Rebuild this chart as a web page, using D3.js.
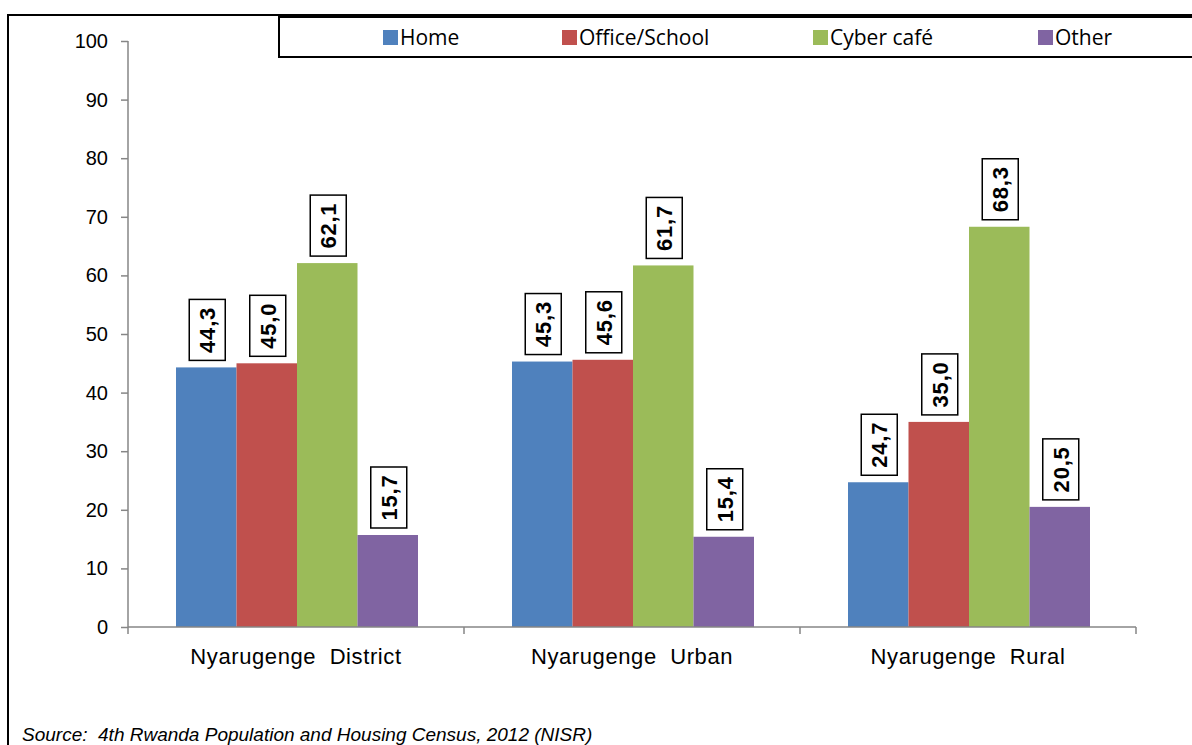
<!DOCTYPE html>
<html><head><meta charset="utf-8">
<script src="https://cdn.jsdelivr.net/npm/d3@7"></script>
<style>body{margin:0;background:#fff;}svg{display:block;}</style>
</head><body>
<svg id="c" width="1192" height="745"></svg>
<script>
const categories = ["Nyarugenge  District", "Nyarugenge  Urban", "Nyarugenge  Rural"];
const seriesNames = ["Home", "Office/School", "Cyber café", "Other"];
const home = [44.3, 45.3, 24.7];
const office = [45.0, 45.6, 35.0];
const cyber = [62.1, 61.7, 68.3];
const other = [15.7, 15.4, 20.5];
const yTicks = [0, 10, 20, 30, 40, 50, 60, 70, 80, 90, 100];
const colors = ["#4F81BD", "#C0504D", "#9BBB59", "#8064A2"];
const seriesValues = [home, office, cyber, other];

const svg = d3.select("#c");
const pL = 128, pR = 1136, pT = 41, pB = 627;

// outer frame
svg.append("line").attr("x1", 8).attr("x2", 8).attr("y1", 14).attr("y2", 745).attr("stroke", "#000").attr("stroke-width", 2);
svg.append("line").attr("x1", 7).attr("x2", 1192).attr("y1", 15).attr("y2", 15).attr("stroke", "#000").attr("stroke-width", 2);

const x0 = d3.scaleBand().domain(categories).range([pL, pR]).paddingInner(0).paddingOuter(0);
const x1 = d3.scaleBand().domain(seriesNames).range([48, x0.bandwidth() - 46]);
const y = d3.scaleLinear().domain([0, 100]).range([pB, pT]);

// y axis
const yAxis = svg.append("g").attr("transform", `translate(${pL},0)`)
  .call(d3.axisLeft(y).tickValues(yTicks).tickSize(7).tickPadding(13));
yAxis.select(".domain").attr("stroke", "#868686").attr("stroke-width", 1.5).attr("d", `M0,${pT}V${pB}`);
yAxis.selectAll(".tick line").attr("stroke", "#868686").attr("stroke-width", 1.5);
yAxis.selectAll(".tick text").attr("font-family", "Liberation Sans, Arial, sans-serif").attr("font-size", 20).attr("fill", "#000");

// bars
const groups = svg.append("g").selectAll("g").data(categories).join("g")
  .attr("transform", d => `translate(${x0(d)},0)`);
seriesNames.forEach((s, si) => {
  groups.append("rect")
    .attr("x", x1(s)).attr("width", x1.bandwidth())
    .attr("y", (d, i) => y(seriesValues[si][i]))
    .attr("height", (d, i) => y(0) - y(seriesValues[si][i]))
    .attr("fill", colors[si]);
  const lab = groups.append("g")
    .attr("transform", (d, i) => `translate(${x1(s) + x1.bandwidth() / 2 + 1},${y(seriesValues[si][i]) - 7})`);
  lab.append("rect").attr("x", -18).attr("y", -61).attr("width", 36).attr("height", 61)
    .attr("fill", "#fff").attr("stroke", "#000").attr("stroke-width", 1.5);
  lab.append("text").attr("transform", "translate(0,-30.5) rotate(-90)")
    .attr("text-anchor", "middle").attr("dy", "0.36em")
    .attr("font-family", "Liberation Sans, Arial, sans-serif").attr("font-weight", "bold").attr("font-size", 22)
    .attr("letter-spacing", 0.8)
    .text((d, i) => seriesValues[si][i].toFixed(1).replace(".", ","));
});

// x axis
const xAxis = svg.append("g").attr("transform", `translate(0,${pB})`)
  .call(d3.axisBottom(x0).tickSize(0).tickPadding(21));
xAxis.select(".domain").attr("stroke", "#868686").attr("stroke-width", 1.5).attr("d", `M${pL},0H${pR}`);
xAxis.selectAll(".tick text").attr("font-family", "Liberation Sans, Arial, sans-serif").attr("font-size", 22)
  .attr("letter-spacing", 0.6).attr("fill", "#000").style("white-space", "pre");
const bounds = [pL].concat(categories.map(c => x0(c) + x0.bandwidth()));
svg.append("g").selectAll("line").data(bounds).join("line")
  .attr("x1", d => d).attr("x2", d => d).attr("y1", pB).attr("y2", pB + 7)
  .attr("stroke", "#868686").attr("stroke-width", 1.5);

// legend
svg.append("rect").attr("x", 279).attr("y", 17).attr("width", 930).attr("height", 40)
  .attr("fill", "#fff").attr("stroke", "#000").attr("stroke-width", 2);
const legX = [383, 562, 813, 1038];
const leg = svg.append("g").selectAll("g").data(seriesNames).join("g")
  .attr("transform", (d, i) => `translate(${legX[i]},30)`);
leg.append("rect").attr("width", 15).attr("height", 15).attr("fill", (d, i) => colors[i]);
leg.append("text").attr("x", 17).attr("y", 15).attr("font-family", "Open Sans, Lato, sans-serif").attr("font-size", 21).text(d => d);

// source
svg.append("text").attr("x", 22).attr("y", 741).attr("font-family", "Liberation Sans, Arial, sans-serif")
  .attr("font-style", "italic").attr("font-size", 19).style("white-space", "pre")
  .text("Source:  4th Rwanda Population and Housing Census, 2012 (NISR)");
</script>
</body></html>
